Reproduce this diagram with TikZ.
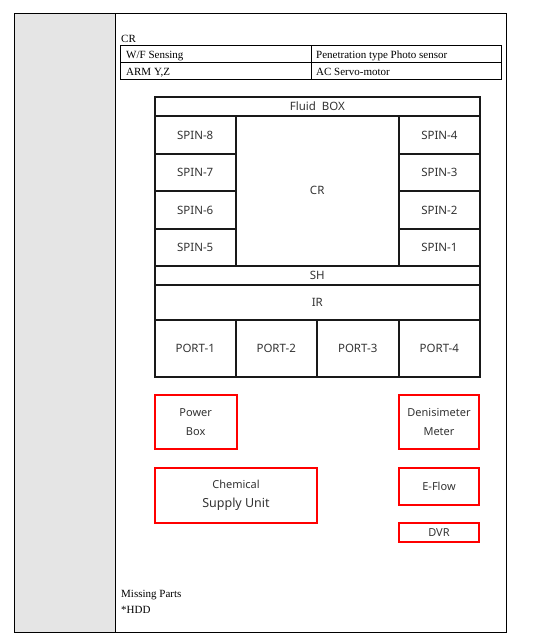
\documentclass[tikz,border=0pt]{standalone}
\usepackage{fontspec}
\setmainfont{Liberation Serif}
\newfontfamily\diagfont{Noto Sans}
\begin{document}
\begin{tikzpicture}[x=1pt,y=-1pt,
  cell/.style={draw=black!90, line width=1.7pt, inner sep=0pt, font=\diagfont\fontsize{11.5}{12}\selectfont, text=black!80},
  redbox/.style={draw=red, line width=2pt, inner sep=0pt, align=center, font=\diagfont\fontsize{11}{18.5}\selectfont, text=black!80},
  txt/.style={inner sep=0pt, anchor=base west, font=\fontsize{11}{12}\selectfont},
  tab/.style={draw=black, line width=0.8pt}]
\useasboundingbox (0,0) rectangle (534,643);
% outer frame
\fill[black!10] (14,13) rectangle (115,632);
\draw[tab] (14,13) rectangle (506,632);
\draw[tab] (115,13) -- (115,632);
% header
\node[txt] (crlabel) at (121,42) {CR};
\draw[tab] (120,45) rectangle (501,79);
\draw[tab] (120,62) -- (501,62);
\draw[tab] (311,45) -- (311,79);
\node[txt] (wf) at (126,58.5) {W/F Sensing};
\node[txt] (pen) at (316,58.5) {Penetration type Photo sensor};
\node[txt] (arm) at (126,75.5) {ARM Y,Z};
\node[txt] (ac) at (316,75.5) {AC Servo-motor};
% diagram grid
\node[cell, minimum width=325.3pt, minimum height=19.3pt] (fluid) at (317.35,106.35) {Fluid\ \ BOX};
\node[cell, minimum width=81pt, minimum height=38pt] (spin8) at (195.2,135) {SPIN-8};
\node[cell, minimum width=81pt, minimum height=37pt] (spin7) at (195.2,172.5) {SPIN-7};
\node[cell, minimum width=81pt, minimum height=38pt] (spin6) at (195.2,210) {SPIN-6};
\node[cell, minimum width=81pt, minimum height=36.7pt] (spin5) at (195.2,247.35) {SPIN-5};
\node[cell, minimum width=163pt, minimum height=149.7pt] (cr) at (317.2,190.85) {CR};
\node[cell, minimum width=81.3pt, minimum height=38pt] (spin4) at (439.35,135) {SPIN-4};
\node[cell, minimum width=81.3pt, minimum height=37pt] (spin3) at (439.35,172.5) {SPIN-3};
\node[cell, minimum width=81.3pt, minimum height=38pt] (spin2) at (439.35,210) {SPIN-2};
\node[cell, minimum width=81.3pt, minimum height=36.7pt] (spin1) at (439.35,247.35) {SPIN-1};
\node[cell, minimum width=325.3pt, minimum height=19.3pt] (sh) at (317.35,275.35) {SH};
\node[cell, minimum width=325.3pt, minimum height=35pt] (ir) at (317.35,302.5) {IR};
\node[cell, minimum width=81pt, minimum height=56.7pt] (port1) at (195.2,348.35) {PORT-1};
\node[cell, minimum width=81pt, minimum height=56.7pt] (port2) at (276.2,348.35) {PORT-2};
\node[cell, minimum width=82pt, minimum height=56.7pt] (port3) at (357.7,348.35) {PORT-3};
\node[cell, minimum width=81.3pt, minimum height=56.7pt] (port4) at (439.35,348.35) {PORT-4};
% red boxes
\node[redbox, minimum width=82pt, minimum height=54.3pt] (power) at (195.7,422.15) {Power\\Box};
\node[redbox, minimum width=80.6pt, minimum height=54.3pt] (dens) at (439,422.15) {Denisimeter\\Meter};
\node[redbox, minimum width=162.6pt, minimum height=55.6pt] (chem) at (236,495.5) {Chemical\\{\fontsize{12.5}{18.5}\selectfont Supply Unit}};
\node[redbox, minimum width=80.6pt, minimum height=37.3pt] (eflow) at (439,486.35) {E-Flow};
\node[redbox, minimum width=80.6pt, minimum height=19pt] (dvr) at (439,532.8) {DVR};
% footer
\node[txt] (missing) at (121,597) {Missing Parts};
\node[txt] (hdd) at (121,613.5) {*HDD};
\end{tikzpicture}
\end{document}
